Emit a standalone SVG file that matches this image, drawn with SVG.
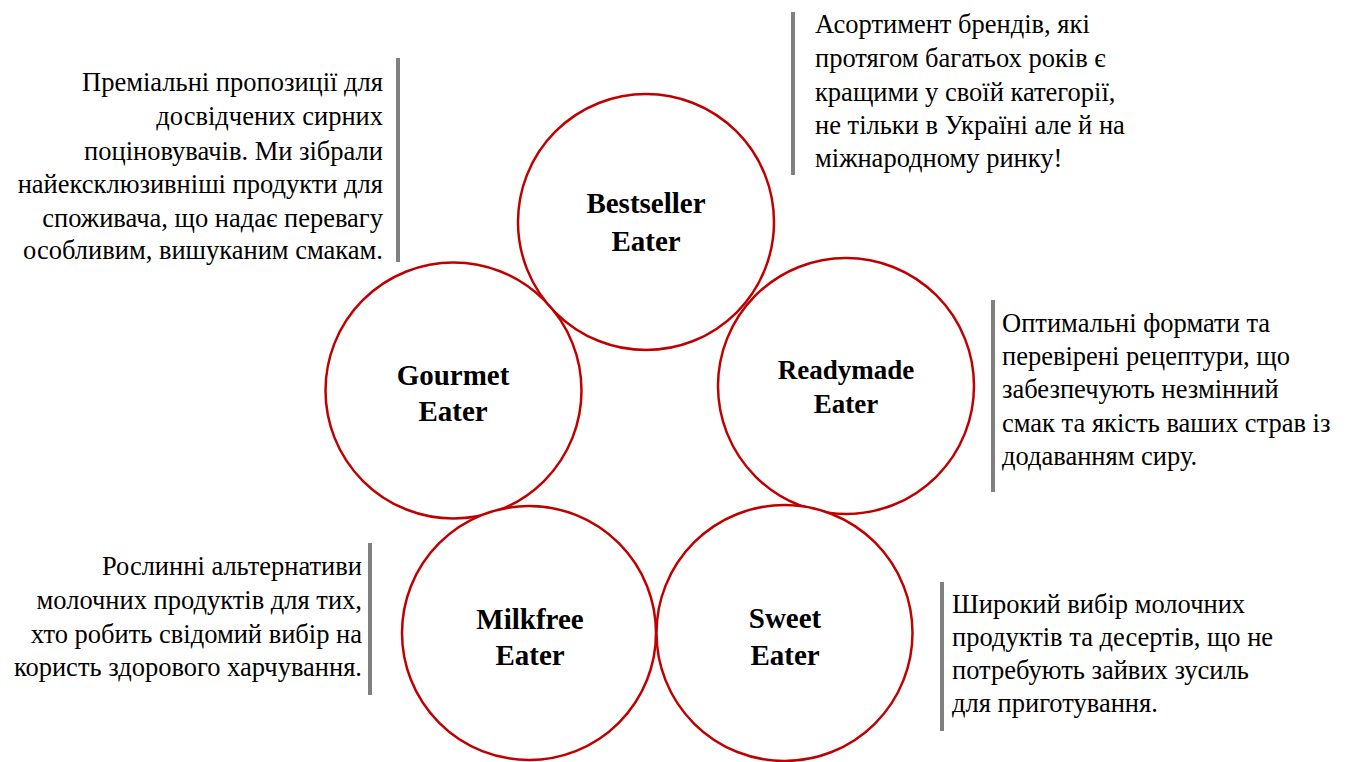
<svg xmlns="http://www.w3.org/2000/svg" width="1349" height="762" viewBox="0 0 1349 762">
<style>
.c{fill:#fff;stroke:#C00000;stroke-width:2.5}
.lbl{font-family:"Liberation Serif","Times New Roman",serif;font-weight:bold;font-size:29px;fill:#000;text-anchor:middle}
.d{font-family:"Liberation Serif","Times New Roman",serif;font-size:26.5px;fill:#000}
.r{text-anchor:end}
.bar{stroke:#808080;stroke-width:4}
</style>
<rect width="1349" height="762" fill="#fff"/>
<g id="connectors"/>
<g id="gourmet">
<circle class="c" cx="453.5" cy="390.5" r="128"/>
<text class="lbl" x="453" y="385">Gourmet</text>
<text class="lbl" x="453" y="421">Eater</text>
</g>
<g id="bestseller">
<circle class="c" cx="646" cy="222" r="128"/>
<text class="lbl" x="646" y="213">Bestseller</text>
<text class="lbl" x="646" y="251">Eater</text>
</g>
<g id="readymade">
<circle class="c" cx="846" cy="386" r="128"/>
<text class="lbl" x="846" y="379" style="font-size:27px">Readymade</text>
<text class="lbl" x="846" y="413" style="font-size:27px">Eater</text>
</g>
<g id="milkfree">
<circle class="c" cx="529" cy="633" r="127"/>
<text class="lbl" x="530" y="629">Milkfree</text>
<text class="lbl" x="530" y="665">Eater</text>
</g>
<g id="sweet">
<circle class="c" cx="784.5" cy="633" r="128"/>
<text class="lbl" x="785" y="628">Sweet</text>
<text class="lbl" x="785" y="665">Eater</text>
</g>
<g id="desc-gourmet">
<line class="bar" x1="398" y1="58" x2="398" y2="262"/>
<text class="d r" x="383" y="91">Преміальні пропозиції для</text>
<text class="d r" x="383" y="125">досвідчених сирних</text>
<text class="d r" x="383" y="160">поціновувачів. Ми зібрали</text>
<text class="d r" x="383" y="193">найексклюзивніші продукти для</text>
<text class="d r" x="383" y="227">споживача, що надає перевагу</text>
<text class="d r" x="383" y="259">особливим, вишуканим смакам.</text>
</g>
<g id="desc-bestseller">
<line class="bar" x1="793" y1="12" x2="793" y2="175"/>
<text class="d" x="815" y="33">Асортимент брендів, які</text>
<text class="d" x="815" y="67">протягом багатьох років є</text>
<text class="d" x="815" y="101">кращими у своїй категорії,</text>
<text class="d" x="815" y="134">не тільки в Україні але й на</text>
<text class="d" x="815" y="167">міжнародному ринку!</text>
</g>
<g id="desc-readymade">
<line class="bar" x1="993" y1="300" x2="993" y2="492"/>
<text class="d" x="1002" y="332">Оптимальні формати та</text>
<text class="d" x="1002" y="365">перевірені рецептури, що</text>
<text class="d" x="1002" y="398">забезпечують незмінний</text>
<text class="d" x="1002" y="432">смак та якість ваших страв із</text>
<text class="d" x="1002" y="465">додаванням сиру.</text>
</g>
<g id="desc-milkfree">
<line class="bar" x1="370" y1="543" x2="370" y2="695"/>
<text class="d r" x="362" y="575">Рослинні альтернативи</text>
<text class="d r" x="362" y="609">молочних продуктів для тих,</text>
<text class="d r" x="362" y="643">хто робить свідомий вибір на</text>
<text class="d r" x="362" y="676">користь здорового харчування.</text>
</g>
<g id="desc-sweet">
<line class="bar" x1="942" y1="582" x2="942" y2="731"/>
<text class="d" x="952" y="613">Широкий вибір молочних</text>
<text class="d" x="952" y="646">продуктів та десертів, що не</text>
<text class="d" x="952" y="679">потребують зайвих зусиль</text>
<text class="d" x="952" y="712">для приготування.</text>
</g>
</svg>
